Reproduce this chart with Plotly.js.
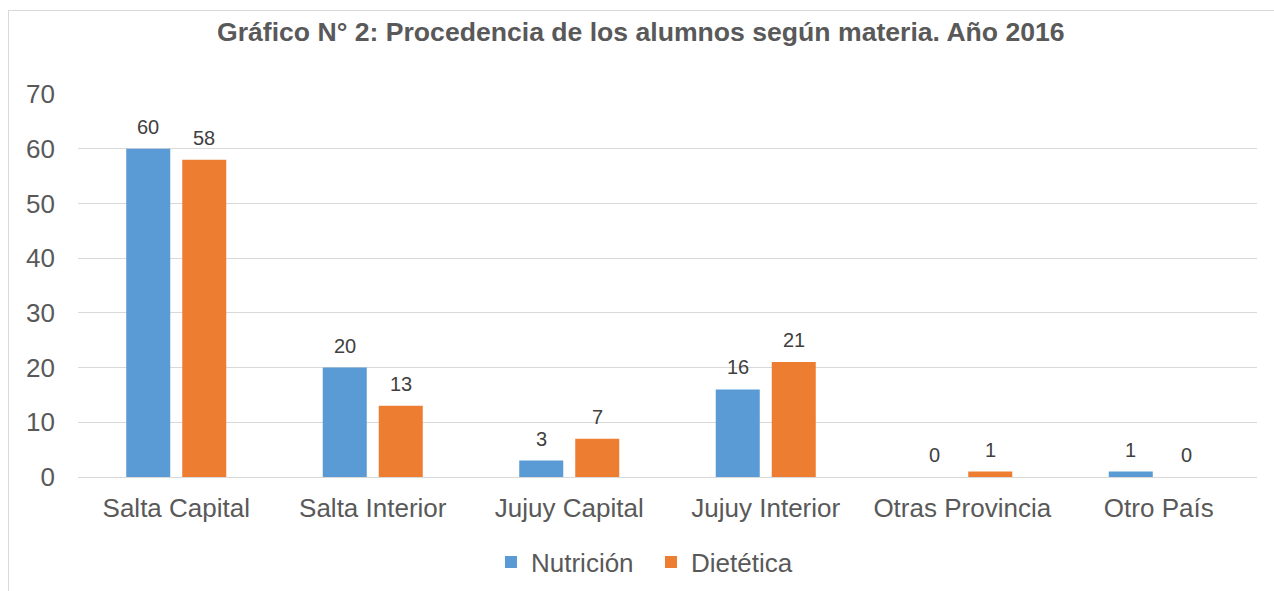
<!DOCTYPE html>
<html>
<head>
<meta charset="utf-8">
<script src="https://cdn.plot.ly/plotly-3.0.1.min.js"></script>
<style>
html,body{margin:0;padding:0;overflow:hidden;background:#fff;}
#frame{position:absolute;left:8px;top:10px;width:2000px;height:2000px;border-left:1px solid #d9d9d9;border-top:1px solid #d9d9d9;pointer-events:none;z-index:5;}
#chart{width:1274px;height:591px;}
</style>
</head>
<body>
<div id="frame"></div>
<div id="chart"></div>
<script>
const categories = ["Salta Capital","Salta Interior","Jujuy Capital","Jujuy Interior","Otras Provincia","Otro País"];
const nutricion = [60, 20, 3, 16, 0, 1];
const dietetica = [58, 13, 7, 21, 1, 0];
const yTicks = [0,10,20,30,40,50,60,70];

const FONT = "Liberation Sans, Arial, sans-serif";
const traces = [
  {type:"bar", name:"Nutrición", x:categories, y:nutricion, marker:{color:"#5B9BD5"}},
  {type:"bar", name:"Dietética", x:categories, y:dietetica, marker:{color:"#ED7D31"}}
];
function labels(vals, shift){
  return categories.map((c,i)=>({
    x:c, y:vals[i], xref:"x", yref:"y", text:String(vals[i]), showarrow:false,
    xshift:shift, yshift:9, yanchor:"bottom", xanchor:"center",
    font:{family:FONT,size:20,color:"#404040"}
  }));
}
const layout = {
  width:1274, height:591,
  margin:{l:78, r:17, t:94, b:114, autoexpand:false},
  paper_bgcolor:"#fff", plot_bgcolor:"#fff",
  font:{family:FONT, color:"#595959"},
  title:{text:"<b>Gráfico N° 2: Procedencia de los alumnos según materia. Año 2016</b>",
         font:{family:FONT,size:26.6,color:"#595959"},
         x:0.503, xanchor:"center", y:1-32/591, yref:"container", yanchor:"middle"},
  barmode:"group", bargap:0.43, bargroupgap:0.214,
  xaxis:{type:"category", showgrid:false, showline:true, linecolor:"#d9d9d9", linewidth:1,
         tickfont:{family:FONT,size:26,color:"#595959"}, ticks:"", ticklabelstandoff:8, fixedrange:true, automargin:false},
  yaxis:{range:[0,70], tickvals:yTicks, showgrid:true, gridcolor:"#d9d9d9", gridwidth:1,
         zeroline:false, showline:false, ticks:"", ticklabelstandoff:22,
         tickfont:{family:FONT,size:26,color:"#595959"}, fixedrange:true, automargin:false},
  annotations: labels(nutricion,-28).concat(labels(dietetica,28)),
  showlegend:true,
  legend:{orientation:"h", x:0.486, xanchor:"center", y:(477-562)/383, yanchor:"middle",
          font:{family:FONT,size:26,color:"#595959"}, traceorder:"normal", entrywidth:115}
};
Plotly.newPlot("chart", traces, layout, {displayModeBar:false, staticPlot:true});
</script>
</body>
</html>
